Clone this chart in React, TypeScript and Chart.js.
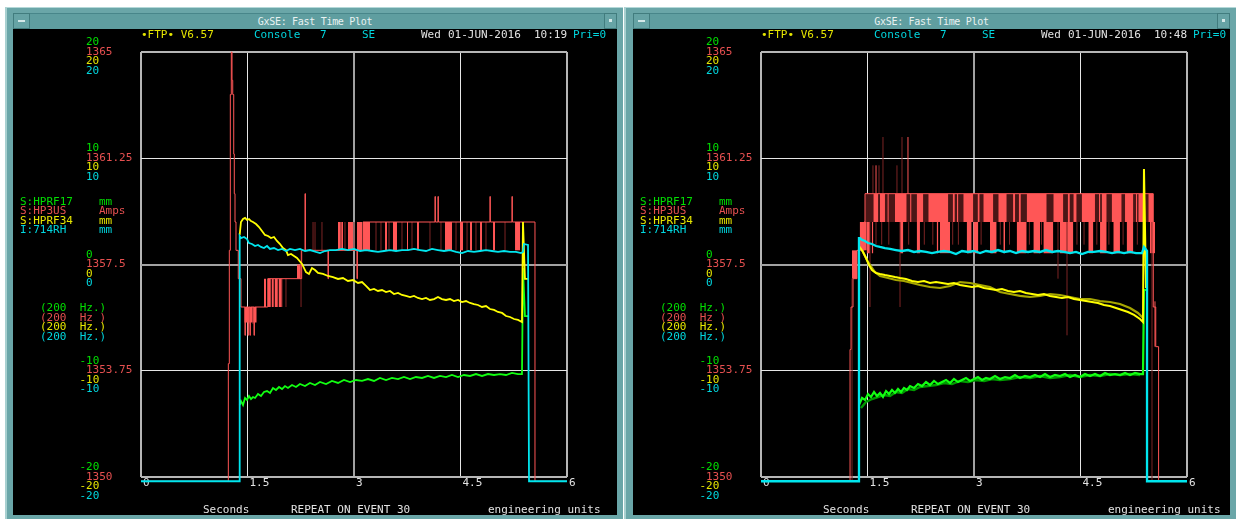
import React, { useEffect, useRef } from "react";
import { Chart, registerables } from "chart.js";

Chart.register(...registerables);

type Pair = [number, number];
type Block = [number, number, number, number];
type Spike = [number, number, number];

// ---------------- text & axis data ----------------
const xTickLabels = ["0", "1.5", "3", "4.5", "6"];
const greenScaleLabels = ["20", "10", "0", "-10", "-20"];
const redScaleLabels = ["1365", "1361.25", "1357.5", "1353.75", "1350"];
const yellowScaleLabels = ["20", "10", "0", "-10", "-20"];
const cyanScaleLabels = ["20", "10", "0", "-10", "-20"];
const signalNames = ["S:HPRF17", "S:HP3US", "S:HPRF34", "I:714RH"];
const signalUnits = ["mm", "Amps", "mm", "mm"];
const signalRates = ["(200  Hz.)", "(200  Hz )", "(200  Hz.)", "(200  Hz.)"];
const plotTimes = ["10:19", "10:48"];
const windowTitle = "GxSE: Fast Time Plot";
const headerWords = ["\u2022FTP\u2022 V6.57", "Console", "7", "SE", "Wed", "01-JUN-2016", "Pri=0"];
const footerWords = ["Seconds", "REPEAT ON EVENT 30", "engineering units"];

const timeRange = [0, 6];
const timeStep = 1.5;
const mmRange = [-20, 20];
const ampRange = [1350, 1365];

// ---------------- left plot (10:19) ----------------
const leftCyan: Pair[] = [
  [0, -20.4], [1.39, -20.4], [1.39, 2.68], [1.408, 2.49], [1.451, 2.59], [1.493, 2.4], [1.521, 2.02],
  [1.563, 1.93], [1.606, 1.74], [1.648, 1.84], [1.69, 1.65], [1.732, 1.55], [1.775, 1.74], [1.817, 1.46],
  [1.873, 1.55], [1.93, 1.36], [1.986, 1.46], [2.042, 1.27], [2.099, 1.46], [2.169, 1.36], [2.239, 1.46],
  [2.31, 1.27], [2.38, 1.36], [2.465, 1.18], [2.521, 1.08], [2.592, 1.27], [2.662, 1.36], [2.746, 1.36],
  [2.831, 1.46], [2.915, 1.36], [3.0, 1.46], [3.085, 1.27], [3.169, 1.36], [3.254, 1.27], [3.338, 1.18],
  [3.423, 1.27], [3.507, 1.36], [3.592, 1.27], [3.676, 1.36], [3.761, 1.36], [3.845, 1.46], [3.93, 1.36],
  [4.014, 1.27], [4.099, 1.46], [4.183, 1.36], [4.268, 1.27], [4.352, 1.36], [4.437, 1.18], [4.521, 1.08],
  [4.606, 1.27], [4.69, 1.18], [4.775, 1.27], [4.859, 1.36], [4.944, 1.27], [5.028, 1.18], [5.113, 1.27],
  [5.197, 1.18], [5.282, 1.18], [5.352, 1.08], [5.38, 1.18], [5.394, 1.93], [5.451, 1.84], [5.465, -20.4],
  [6.0, -20.4],
];

const leftYellow: Pair[] = [
  [1.39, 2.78], [1.408, 4.0], [1.437, 4.28], [1.465, 4.38], [1.493, 4.19],
  [1.521, 4.28], [1.549, 4.09], [1.577, 4.0], [1.62, 3.81], [1.662, 3.53], [1.704, 3.15], [1.746, 2.78],
  [1.789, 2.68], [1.831, 2.49], [1.873, 2.59], [1.915, 2.21], [1.958, 1.93], [2.0, 1.55], [2.042, 1.36],
  [2.07, 0.89], [2.113, 0.99], [2.155, 0.8], [2.197, 0.61], [2.268, 0.05], [2.324, -0.71], [2.366, -0.89],
  [2.408, -0.33], [2.451, -0.52], [2.493, -0.8], [2.563, -0.89], [2.634, -1.08], [2.704, -1.18],
  [2.775, -1.36], [2.845, -1.27], [2.915, -1.55], [2.986, -1.46], [3.056, -1.74], [3.113, -1.65],
  [3.169, -2.02], [3.225, -2.4], [3.282, -2.3], [3.338, -2.49], [3.394, -2.4], [3.451, -2.59],
  [3.507, -2.49], [3.563, -2.78], [3.62, -2.68], [3.676, -2.87], [3.732, -2.96], [3.789, -3.06],
  [3.845, -2.96], [3.901, -3.15], [3.958, -3.25], [4.014, -3.15], [4.07, -3.34], [4.127, -3.25],
  [4.183, -3.06], [4.239, -3.25], [4.296, -3.34], [4.352, -3.25], [4.408, -3.44], [4.465, -3.34],
  [4.521, -3.53], [4.577, -3.44], [4.634, -3.62], [4.69, -3.72], [4.746, -3.81], [4.803, -4.0],
  [4.859, -3.91], [4.915, -4.19], [4.972, -4.28], [5.028, -4.47], [5.085, -4.56], [5.141, -4.85],
  [5.197, -4.94], [5.254, -5.13], [5.31, -5.22], [5.366, -5.41], [5.38, 4.0], [5.408, -1.36],
  [5.465, -1.36],
];

const leftGreen: Pair[] = [
  [1.39, -13.22], [1.408, -12.85], [1.437, -13.22], [1.465, -12.56],
  [1.493, -12.75], [1.521, -12.38], [1.549, -12.66], [1.577, -12.47], [1.606, -12.56], [1.648, -12.19],
  [1.69, -12.38], [1.732, -12.0], [1.775, -11.91], [1.817, -12.09], [1.859, -11.62], [1.901, -11.81],
  [1.944, -11.53], [1.986, -11.72], [2.028, -11.44], [2.07, -11.62], [2.127, -11.34], [2.183, -11.53],
  [2.239, -11.25], [2.31, -11.44], [2.38, -11.15], [2.451, -11.34], [2.521, -11.06], [2.606, -11.25],
  [2.69, -10.96], [2.775, -11.15], [2.859, -10.87], [2.944, -11.06], [3.028, -10.87], [3.113, -10.96],
  [3.197, -10.78], [3.282, -10.96], [3.366, -10.68], [3.451, -10.87], [3.535, -10.68], [3.62, -10.78],
  [3.704, -10.59], [3.789, -10.78], [3.873, -10.59], [3.958, -10.68], [4.042, -10.49], [4.127, -10.68],
  [4.211, -10.49], [4.296, -10.59], [4.38, -10.4], [4.465, -10.59], [4.549, -10.4], [4.634, -10.49],
  [4.718, -10.31], [4.803, -10.49], [4.887, -10.31], [4.972, -10.4], [5.056, -10.31], [5.141, -10.4],
  [5.225, -10.21], [5.31, -10.31], [5.366, -10.31], [5.38, -0.33], [5.408, -4.85], [5.465, -4.85],
];

const leftRed: Pair[] = [
  [0, 1349.85], [1.23, 1354.0], [1.244, 1358.0], [1.258, 1363.5], [1.272, 1365.0], [1.282, 1364.0],
  [1.292, 1363.5], [1.306, 1361.4], [1.314, 1360.0], [1.324, 1359.0], [1.338, 1358.0], [1.37, 1357.0],
  [1.408, 1356.0], [1.465, 1355.0], [1.47, 1356.0], [1.507, 1355.0], [1.512, 1356.0], [1.535, 1355.0],
  [1.54, 1356.0], [1.592, 1355.0], [1.597, 1356.0], [1.785, 1357.0], [2.263, 1358.0], [2.31, 1360.0],
  [2.316, 1358.0], [2.634, 1357.0], [2.64, 1358.0], [3.042, 1357.0], [3.048, 1358.0], [3.127, 1359.0],
  [4.141, 1359.9], [4.146, 1359.0], [4.183, 1359.9], [4.188, 1359.0], [4.915, 1359.9], [4.92, 1359.0],
  [5.225, 1359.9], [5.23, 1359.0], [5.549, 1349.85], [6.0, 1349.85],
];

const leftRedBlocks: Block[] = [
  [1.455, 1.63, 1355.45, 1356], [1.732, 1.762, 1356, 1357], [1.789, 1.831, 1356, 1357],
  [1.845, 1.873, 1356, 1357], [1.887, 1.93, 1356, 1357], [1.944, 1.986, 1356, 1357],
  [2.197, 2.263, 1357, 1357.5], [2.775, 2.845, 1358, 1359], [2.915, 2.986, 1358, 1359],
  [3.042, 3.113, 1358, 1359], [3.127, 3.225, 1358, 1359], [3.437, 3.465, 1358, 1359],
  [3.549, 3.606, 1358, 1359], [3.746, 3.761, 1358, 1359], [3.887, 3.915, 1358, 1359],
  [4.282, 4.38, 1358, 1359], [4.493, 4.535, 1358, 1359], [4.634, 4.662, 1358, 1359],
  [4.775, 4.803, 1358, 1359], [4.958, 4.986, 1358, 1359], [5.268, 5.338, 1358, 1359],
];

const leftRedDimSpikes: Spike[] = [
  [1.521, 1355.4, 1356], [1.577, 1355.4, 1356], [1.831, 1356, 1357], [1.873, 1356, 1357],
  [1.93, 1356, 1357], [1.986, 1356, 1357], [2.042, 1356, 1357], [2.254, 1356, 1358],
  [2.423, 1358, 1359], [2.451, 1358, 1359], [2.549, 1358, 1359], [2.817, 1358, 1359],
  [2.873, 1358, 1359], [3.0, 1358, 1359], [3.31, 1358, 1359], [3.38, 1358, 1359], [3.493, 1358, 1359],
  [3.676, 1358, 1359], [3.817, 1358, 1359], [4.07, 1358, 1359], [4.225, 1358, 1359],
  [4.437, 1358, 1359], [4.592, 1358, 1359], [4.718, 1358, 1359], [4.859, 1358, 1359],
  [5.127, 1358, 1359], [5.38, 1358, 1359],
];

// ---------------- right plot (10:48) ----------------
const rightCyan: Pair[] = [
  [0, -20.4], [1.38, -20.4], [1.38, 2.49], [1.394, 2.49], [1.423, 2.31], [1.465, 2.21], [1.507, 2.02],
  [1.563, 1.93], [1.62, 1.74], [1.676, 1.65], [1.746, 1.55], [1.817, 1.46], [1.901, 1.36], [1.986, 1.27],
  [2.07, 1.36], [2.155, 1.18], [2.239, 1.27], [2.324, 1.18], [2.408, 1.08], [2.493, 1.18], [2.577, 1.27],
  [2.662, 1.18], [2.746, 0.99], [2.831, 1.27], [2.915, 1.18], [3.0, 1.27], [3.085, 1.08], [3.169, 1.27],
  [3.254, 1.18], [3.338, 1.36], [3.423, 1.18], [3.507, 1.27], [3.592, 1.08], [3.676, 1.27], [3.761, 1.18],
  [3.845, 1.27], [3.93, 1.18], [4.014, 1.36], [4.099, 1.18], [4.183, 1.27], [4.268, 1.18], [4.352, 1.08],
  [4.437, 1.18], [4.521, 0.99], [4.606, 1.18], [4.69, 1.18], [4.775, 1.27], [4.859, 1.18], [4.944, 1.08],
  [5.028, 1.18], [5.113, 1.08], [5.197, 1.18], [5.282, 1.08], [5.366, 1.08], [5.394, 1.65], [5.437, 1.27],
  [5.437, -20.4], [6.0, -20.4],
];

const rightYellow: Pair[] = [
  [1.38, 1.74], [1.437, 1.18], [1.479, 0.61], [1.521, -0.05], [1.563, -0.52],
  [1.62, -0.8], [1.676, -0.89], [1.746, -0.99], [1.817, -1.08], [1.887, -1.18], [1.958, -1.27],
  [2.042, -1.36], [2.127, -1.55], [2.211, -1.65], [2.296, -1.55], [2.38, -1.74], [2.465, -1.65],
  [2.549, -1.74], [2.634, -1.84], [2.718, -1.74], [2.803, -1.93], [2.887, -2.02], [2.972, -2.12],
  [3.056, -2.02], [3.141, -2.21], [3.225, -2.3], [3.31, -2.4], [3.394, -2.3], [3.479, -2.49],
  [3.563, -2.59], [3.648, -2.49], [3.732, -2.68], [3.817, -2.78], [3.901, -2.87], [3.986, -2.78],
  [4.07, -2.96], [4.155, -3.06], [4.239, -3.15], [4.324, -3.06], [4.408, -3.25], [4.493, -3.34],
  [4.577, -3.44], [4.662, -3.53], [4.746, -3.62], [4.831, -3.81], [4.915, -3.91], [5.0, -4.09],
  [5.085, -4.28], [5.169, -4.47], [5.254, -4.75], [5.338, -5.13], [5.38, -5.41], [5.394, 8.99],
  [5.423, -2.12], [5.437, -2.12],
];

const rightYellowDim: Pair[] = [
  [1.423, 1.36], [1.507, 0.24], [1.592, -0.61], [1.676, -1.08], [1.789, -1.27], [1.901, -1.46],
  [2.014, -1.55], [2.127, -1.74], [2.239, -1.93], [2.38, -2.12], [2.521, -2.21], [2.662, -2.02],
  [2.803, -1.65], [2.944, -1.74], [3.085, -1.93], [3.225, -2.12], [3.366, -2.59], [3.507, -2.78],
  [3.648, -2.96], [3.789, -3.06], [3.93, -2.96], [4.07, -2.78], [4.211, -2.87], [4.352, -3.06],
  [4.493, -3.25], [4.634, -3.25], [4.775, -3.44], [4.915, -3.53], [5.056, -3.72], [5.197, -4.09],
  [5.31, -4.56], [5.38, -5.03],
];

const rightGreen: Pair[] = [
  [1.38, -13.22], [1.423, -12.56], [1.465, -12.75], [1.507, -12.19],
  [1.549, -12.47], [1.592, -12.0], [1.634, -12.38], [1.676, -12.09], [1.718, -12.47], [1.761, -11.91],
  [1.803, -12.19], [1.845, -11.81], [1.887, -12.09], [1.93, -11.72], [1.972, -12.0], [2.014, -11.62],
  [2.056, -11.81], [2.099, -11.44], [2.155, -11.62], [2.211, -11.25], [2.268, -11.44], [2.324, -11.06],
  [2.38, -11.34], [2.437, -10.96], [2.493, -11.25], [2.549, -11.06], [2.606, -10.87], [2.662, -11.15],
  [2.718, -10.78], [2.775, -11.06], [2.831, -10.87], [2.887, -10.68], [2.944, -10.96], [3.0, -10.78],
  [3.056, -10.59], [3.113, -10.87], [3.169, -10.68], [3.225, -10.78], [3.296, -10.49], [3.366, -10.78],
  [3.437, -10.59], [3.507, -10.68], [3.577, -10.4], [3.648, -10.68], [3.718, -10.49], [3.789, -10.59],
  [3.859, -10.4], [3.93, -10.59], [4.0, -10.31], [4.07, -10.59], [4.141, -10.4], [4.211, -10.49],
  [4.282, -10.31], [4.352, -10.59], [4.423, -10.4], [4.493, -10.59], [4.563, -10.31], [4.634, -10.49],
  [4.704, -10.31], [4.775, -10.49], [4.845, -10.21], [4.915, -10.4], [4.986, -10.31], [5.056, -10.4],
  [5.127, -10.21], [5.197, -10.4], [5.268, -10.21], [5.338, -10.31], [5.38, -10.31], [5.394, -2.4],
  [5.437, -2.4],
];

const rightGreenDim: Pair[] = [
  [1.408, -13.51], [1.479, -12.94], [1.563, -12.66], [1.648, -12.47], [1.732, -12.28], [1.817, -12.38],
  [1.901, -12.0], [1.986, -12.09], [2.07, -11.72], [2.155, -11.81], [2.239, -11.53], [2.352, -11.44],
  [2.465, -11.34], [2.577, -11.15], [2.69, -11.25], [2.803, -10.96], [2.915, -11.06], [3.028, -10.87],
  [3.141, -10.96], [3.254, -10.78], [3.366, -10.87], [3.507, -10.78], [3.648, -10.59], [3.789, -10.68],
  [3.93, -10.49], [4.07, -10.68], [4.211, -10.59], [4.352, -10.4], [4.493, -10.59], [4.634, -10.4],
  [4.775, -10.49], [4.915, -10.31], [5.056, -10.4], [5.197, -10.31], [5.338, -10.4],
];

const rightRed: Pair[] = [
  [0, 1349.85], [1.254, 1354.5], [1.268, 1356.0], [1.296, 1357.0], [1.352, 1358.0], [1.451, 1359.0],
  [1.465, 1360.0], [5.525, 1356.0], [5.56, 1354.6], [5.6, 1349.85], [6.0, 1349.85],
];

const rightRedBand: Block[] = [[1.465, 5.525, 1359, 1360]];

const rightRedBlocks: Block[] = [
  [1.282, 1.352, 1357, 1358], [1.39, 1.49, 1358, 1359],
  [1.582, 1.652, 1359, 1360], [1.676, 1.746, 1359, 1360], [1.78, 1.8, 1359, 1360], [1.887, 2.052, 1359, 1360],
  [2.1, 2.12, 1359, 1360], [2.193, 2.286, 1359, 1360], [2.356, 2.638, 1359, 1360], [2.7, 2.73, 1359, 1360],
  [2.76, 2.78, 1359, 1360], [2.849, 2.99, 1359, 1360], [3.05, 3.08, 1359, 1360], [3.131, 3.272, 1359, 1360],
  [3.342, 3.461, 1359, 1360], [3.55, 3.58, 1359, 1360], [3.63, 3.66, 1359, 1360], [3.742, 4.024, 1359, 1360],
  [4.117, 4.258, 1359, 1360], [4.32, 4.35, 1359, 1360], [4.399, 4.446, 1359, 1360], [4.517, 4.704, 1359, 1360],
  [4.76, 4.78, 1359, 1360], [4.798, 4.869, 1359, 1360], [4.939, 5.08, 1359, 1360], [5.127, 5.244, 1359, 1360],
  [5.28, 5.3, 1359, 1360], [5.314, 5.408, 1359, 1360], [5.455, 5.525, 1359, 1360],
  [1.488, 1.535, 1357.9, 1359], [1.559, 1.582, 1357.9, 1359], [1.958, 2.004, 1357.9, 1359],
  [2.193, 2.239, 1357.9, 1359], [2.474, 2.498, 1357.9, 1359], [2.521, 2.662, 1357.9, 1359],
  [2.897, 2.967, 1357.9, 1359], [2.99, 3.061, 1357.9, 1359], [3.225, 3.319, 1357.9, 1359],
  [3.413, 3.437, 1357.9, 1359], [3.601, 3.742, 1357.9, 1359], [3.836, 3.93, 1357.9, 1359],
  [3.977, 4.117, 1357.9, 1359], [4.211, 4.399, 1357.9, 1359], [4.61, 4.681, 1357.9, 1359],
  [4.775, 4.869, 1357.9, 1359], [4.962, 5.056, 1357.9, 1359], [5.15, 5.244, 1357.9, 1359],
  [5.479, 5.549, 1357.9, 1359],
];

const rightRedDimSpikes: Spike[] = [
  [1.282, 1349.85, 1357], [1.535, 1356, 1359], [1.577, 1360, 1361], [1.662, 1360, 1361],
  [1.718, 1360, 1362], [1.915, 1360, 1361], [1.986, 1360, 1362], [1.958, 1356, 1359],
  [1.62, 1358.2, 1359], [1.7, 1358.2, 1359], [1.8, 1358.2, 1359], [2.08, 1358.2, 1359],
  [2.3, 1358.2, 1359], [2.42, 1358.2, 1359], [2.7, 1358.2, 1359], [2.78, 1358.2, 1359],
  [3.1, 1358.2, 1359], [3.37, 1358.2, 1359], [3.5, 1358.2, 1359], [3.78, 1358.2, 1359],
  [3.95, 1358.2, 1359], [4.183, 1357, 1359], [4.31, 1355, 1359], [4.45, 1358.2, 1359],
  [4.55, 1358.2, 1359], [4.73, 1358.2, 1359], [4.9, 1358.2, 1359], [5.1, 1358.2, 1359],
  [5.3, 1358.2, 1359], [5.4, 1358.2, 1359], [5.507, 1349.85, 1359],
];

const rightRedSpikes: Spike[] = [
  [1.62, 1360, 1361], [2.07, 1360, 1362], [5.549, 1354.6, 1356.2],
];

// ---------------- styling ----------------
const FONT = "'DejaVu Sans Mono', monospace";
const CW = 6.6;
const C = {
  green: "#12ff12",
  greenDim: "#009a00",
  yellow: "#ffff00",
  yellowDim: "#a6a600",
  cyan: "#00e6ee",
  red: "#ff5656",
  redDim: "#7c2424",
  redBand: "#4a1616",
  tGreen: "#00e000",
  tRed: "#e65050",
  tYellow: "#e6e600",
  tCyan: "#00d6de",
  tWhite: "#e2e2e2",
};
const CLIP = { left: 2, top: 2, right: 6, bottom: 8 };

const xy = (arr: Pair[]) => arr.map(([x, y]) => ({ x, y }));

function trace(data: Pair[], color: string, width: number, order: number, extra: any = {}) {
  return {
    type: "line",
    data: xy(data),
    borderColor: color,
    borderWidth: width,
    pointRadius: 0,
    fill: false,
    tension: 0,
    yAxisID: "y",
    order,
    clip: CLIP,
    ...extra,
  };
}

function redTrace(data: Pair[], color: string, order: number) {
  return { ...trace(data, color, 1, order), yAxisID: "yr", stepped: "before" };
}

function blockSets(list: Block[], color: string, order: number) {
  return list.map(([t0, t1, lo, hi]) => ({
    type: "line",
    data: [{ x: t0, y: hi }, { x: t1, y: hi }],
    yAxisID: "yr",
    borderWidth: 0,
    borderColor: "rgba(0,0,0,0)",
    backgroundColor: color,
    fill: { value: lo },
    pointRadius: 0,
    order,
    clip: CLIP,
  }));
}

function spikeSet(list: Spike[], color: string, order: number) {
  return {
    type: "line",
    data: list.flatMap(([t, a, b]) => [{ x: t, y: a }, { x: t, y: b }, { x: t, y: null }]),
    yAxisID: "yr",
    borderColor: color,
    borderWidth: 1,
    pointRadius: 0,
    fill: false,
    spanGaps: false,
    order,
    clip: CLIP,
  };
}

function cyanTrace(data: Pair[], width: number) {
  const last = data.length - 1;
  return trace(data, C.cyan, width, 0, {
    pointRadius: (c: any) => (c.dataIndex === last ? 3 : 0),
    pointStyle: "rect",
    pointBackgroundColor: C.cyan,
    pointBorderWidth: 0,
  });
}

const gridColor = (center: number, edges: number[]) => (ctx: any) => {
  const v = ctx.tick ? ctx.tick.value : NaN;
  if (v === center) return "#a2a2a2";
  if (edges.includes(v)) return "#b6b6b6";
  return "#e6e6e6";
};
const gridWidth = (center: number, edges: number[]) => (ctx: any) => {
  const v = ctx.tick ? ctx.tick.value : NaN;
  return v === center || edges.includes(v) ? 2 : 1;
};

function makeConfig(datasets: any[]): any {
  return {
    type: "line",
    data: { datasets },
    options: {
      responsive: false,
      animation: false,
      events: [],
      devicePixelRatio: 1,
      layout: { padding: { left: 141, top: 52, right: 53, bottom: 0 } },
      plugins: { legend: { display: false }, tooltip: { enabled: false }, title: { display: false } },
      scales: {
        x: {
          type: "linear",
          min: timeRange[0],
          max: timeRange[1],
          z: 1,
          border: { display: false },
          grid: {
            drawTicks: false,
            color: gridColor(3, timeRange),
            lineWidth: gridWidth(3, timeRange),
          },
          ticks: {
            stepSize: timeStep,
            autoSkip: false,
            maxRotation: 0,
            align: "start",
            labelOffset: 2,
            padding: 0,
            color: C.tWhite,
            font: { family: FONT, size: 11 },
            callback: (_v: any, i: number) => xTickLabels[i],
          },
          afterFit: (s: any) => {
            s.height = 42;
          },
        },
        y: {
          type: "linear",
          min: mmRange[0],
          max: mmRange[1],
          z: 1,
          border: { display: false },
          grid: {
            drawTicks: false,
            color: gridColor(0, mmRange),
            lineWidth: gridWidth(0, mmRange),
          },
          ticks: { stepSize: 10, display: false },
          afterFit: (s: any) => {
            s.width = 0;
          },
        },
        yr: { type: "linear", min: ampRange[0], max: ampRange[1], display: false },
      },
    },
  };
}

function leftDatasets() {
  return [
    ...blockSets(leftRedBlocks, C.red, 20),
    spikeSet(leftRedDimSpikes, C.redDim, 15),
    redTrace(leftRed, C.red, 12),
    trace(leftGreen, C.green, 1.8, 6),
    trace(leftYellow, C.yellow, 1.8, 4),
    cyanTrace(leftCyan, 1.8),
  ];
}

function rightDatasets() {
  return [
    ...blockSets(rightRedBand, C.redBand, 22),
    ...blockSets(rightRedBlocks, C.red, 20),
    spikeSet(rightRedDimSpikes, C.redDim, 15),
    spikeSet(rightRedSpikes, C.red, 14),
    redTrace(rightRed, C.red, 12),
    trace(rightGreenDim, C.greenDim, 2.4, 8),
    trace(rightGreen, C.green, 2.2, 6),
    trace(rightYellowDim, C.yellowDim, 2.2, 5),
    trace(rightYellow, C.yellow, 2.0, 4),
    cyanTrace(rightCyan, 2.3),
  ];
}

function PlotCanvas({ left, build }: { left: number; build: () => any[] }) {
  const ref = useRef<HTMLCanvasElement | null>(null);
  useEffect(() => {
    if (!ref.current) return;
    const chart = new Chart(ref.current, makeConfig(build()));
    return () => chart.destroy();
  }, []);
  return (
    <canvas
      ref={ref}
      width={620}
      height={519}
      style={{ position: "absolute", left, top: 0, width: 620, height: 519, zIndex: 1 }}
    />
  );
}

function Txt({ x, y, color, children }: { x: number; y: number; color: string; children: any }) {
  return (
    <div
      style={{
        position: "absolute",
        left: x,
        top: y - 6,
        fontFamily: FONT,
        fontSize: 11,
        lineHeight: "12px",
        color,
        whiteSpace: "pre",
        zIndex: 2,
      }}
    >
      {children}
    </div>
  );
}

function WindowFrame({ x, w, cx, cw }: { x: number; w: number; cx: number; cw: number }) {
  return (
    <>
      <div
        style={{
          position: "absolute",
          left: x,
          top: 7,
          width: w,
          height: 520,
          background: "#6aa6a8",
          borderTop: "1px solid #b4d8d8",
          borderLeft: "2px solid #a8d0d0",
          boxSizing: "border-box",
        }}
      />
      <div
        style={{
          position: "absolute",
          left: cx,
          top: 13,
          width: cw,
          height: 16,
          background: "#5f9ea0",
          borderTop: "1px solid #48868a",
          boxSizing: "border-box",
          color: "#e8f2f2",
          fontFamily: FONT,
          fontSize: 10,
          letterSpacing: "-0.3px",
          lineHeight: "15px",
          textAlign: "center",
        }}
      >
        {windowTitle}
      </div>
      <div
        style={{
          position: "absolute",
          left: cx,
          top: 13,
          width: 17,
          height: 16,
          border: "1px solid #417c7e",
          boxSizing: "border-box",
          background: "#66a3a5",
        }}
      >
        <div style={{ position: "absolute", left: 4, top: 6, width: 7, height: 2, background: "#d4e8e8" }} />
      </div>
      <div
        style={{
          position: "absolute",
          left: cx + cw - 13,
          top: 13,
          width: 13,
          height: 16,
          border: "1px solid #417c7e",
          boxSizing: "border-box",
          background: "#66a3a5",
        }}
      >
        <div style={{ position: "absolute", left: 4, top: 5, width: 3, height: 3, background: "#d4e8e8" }} />
      </div>
      <div style={{ position: "absolute", left: cx, top: 29, width: cw, height: 486, background: "#000" }} />
    </>
  );
}

function PanelText({ ox, time }: { ox: number; time: string }) {
  const hdrX = [141, 254, 320, 362, 421, 448, 573];
  const hdrColor = [C.tYellow, C.tCyan, C.tCyan, C.tCyan, C.tWhite, C.tWhite, C.tCyan];
  const scaleGroups = [greenScaleLabels, redScaleLabels, yellowScaleLabels, cyanScaleLabels];
  const scaleColors = [C.tGreen, C.tRed, C.tYellow, C.tCyan];
  const rowOffsets = [-10, -0.5, 9, 18.5];
  const sigColors = [C.tGreen, C.tRed, C.tYellow, C.tCyan];
  const sigY = [202, 211, 220.5, 230];
  const rateY = [308, 318, 327, 337];
  const footX = [203, 291, 488];
  const items: any[] = [];
  headerWords.forEach((wd, i) =>
    items.push(
      <Txt key={"h" + i} x={ox + hdrX[i]} y={35} color={hdrColor[i]}>
        {wd}
      </Txt>
    )
  );
  items.push(
    <Txt key="time" x={ox + 534} y={35} color={C.tWhite}>
      {time}
    </Txt>
  );
  for (let k = 0; k < 5; k++) {
    const g = 52 + k * 106.25;
    scaleGroups.forEach((grp, j) => {
      const label = grp[k];
      const neg = label.startsWith("-");
      items.push(
        <Txt key={`s${k}-${j}`} x={ox + 86 - (neg ? CW : 0)} y={g + rowOffsets[j]} color={scaleColors[j]}>
          {label}
        </Txt>
      );
    });
  }
  signalNames.forEach((n, i) => {
    items.push(
      <Txt key={"n" + i} x={ox + 20} y={sigY[i]} color={sigColors[i]}>
        {n}
      </Txt>
    );
    items.push(
      <Txt key={"u" + i} x={ox + 99} y={sigY[i]} color={sigColors[i]}>
        {signalUnits[i]}
      </Txt>
    );
    items.push(
      <Txt key={"r" + i} x={ox + 40} y={rateY[i]} color={sigColors[i]}>
        {signalRates[i]}
      </Txt>
    );
  });
  footerWords.forEach((f, i) =>
    items.push(
      <Txt key={"f" + i} x={ox + footX[i]} y={510} color={C.tWhite}>
        {f}
      </Txt>
    )
  );
  return <>{items}</>;
}

export default function App() {
  return (
    <div
      style={{
        position: "absolute",
        left: 0,
        top: 0,
        width: 1236,
        height: 519,
        overflow: "hidden",
        background: "#ffffff",
      }}
    >
      <WindowFrame x={5} w={618} cx={13} cw={604} />
      <WindowFrame x={624} w={620} cx={633} cw={597} />
      <PlotCanvas left={0} build={leftDatasets} />
      <PlotCanvas left={620} build={rightDatasets} />
      <PanelText ox={0} time={plotTimes[0]} />
      <PanelText ox={620} time={plotTimes[1]} />
    </div>
  );
}
